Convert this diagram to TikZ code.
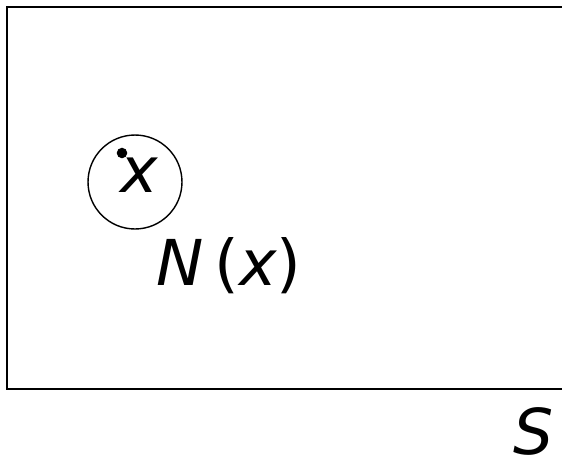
\documentclass[tikz,border=0pt]{standalone}
\usepackage{fontspec}
\setmainfont{DejaVu Sans}
\usepackage{tikz}
\tikzset{
  lbl/.style={inner sep=0pt, font=\fontsize{36}{40}\selectfont\itshape},
  nbhd/.style={draw, thick, circle, minimum size=1.88cm, inner sep=0pt},
  pt/.style={circle, fill=black, minimum size=6pt, inner sep=0pt}
}
\begin{document}
\begin{tikzpicture}[x=0.02cm, y=-0.02cm]
		\useasboundingbox (0,0) rectangle (562,464);
		% space S
		\draw[thick] (563,7) -- (7,7) -- (7,389) -- (563,389);
		% neighbourhood
		\node[nbhd] (nx) at (135,182) {};
		\node[pt] (p) at (122,153) {};
		\node[lbl] (x) at (139,175) {x};
		\node[lbl] (N) at (229,266) {N\,{\upshape(}x{\upshape)}};
		\node[lbl] (S) at (534,431) {S};
	\end{tikzpicture}
\end{document}
